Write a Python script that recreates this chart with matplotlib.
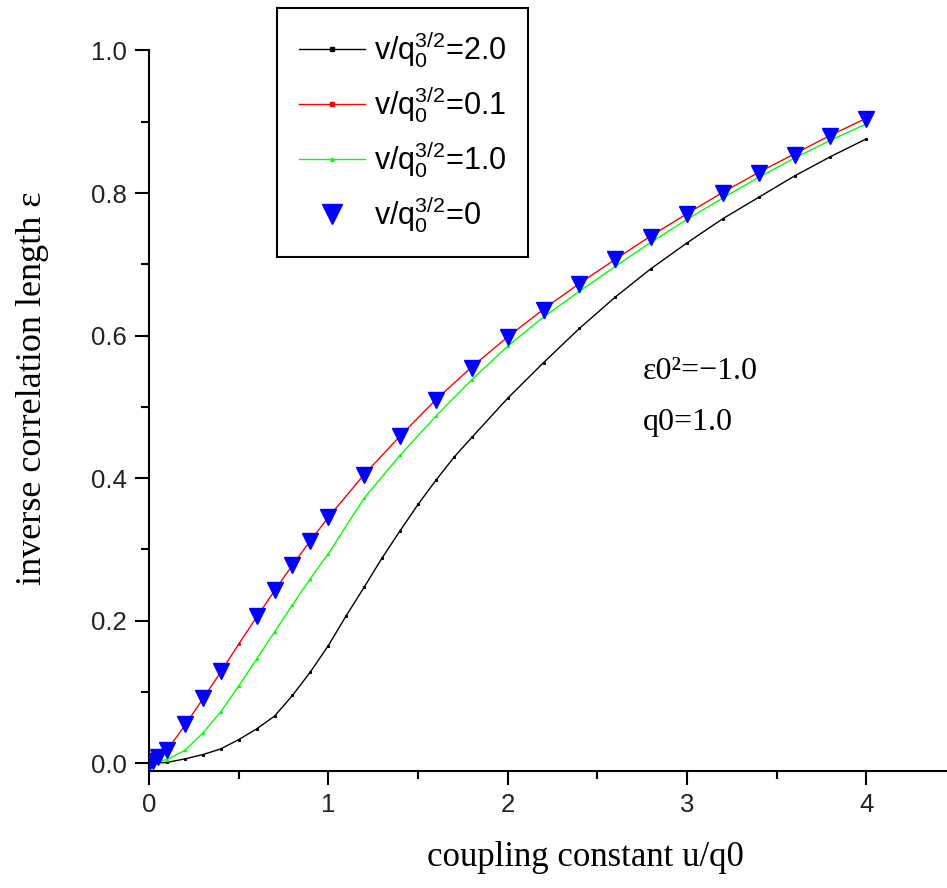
import matplotlib
matplotlib.use("Agg")
import matplotlib.pyplot as plt
from matplotlib.ticker import MultipleLocator

# ---- data ----
x_tri = [0, 0.02, 0.05, 0.1, 0.2, 0.3, 0.4, 0.6, 0.7, 0.8, 0.9, 1.0, 1.2, 1.4,
         1.6, 1.8, 2.0, 2.2, 2.4, 2.6, 2.8, 3.0, 3.2, 3.4, 3.6, 3.8, 4.0]
y_tri = [0.0, 0.003, 0.008, 0.019, 0.055, 0.091, 0.130, 0.206, 0.243, 0.278,
         0.312, 0.345, 0.405, 0.459, 0.510, 0.555, 0.598, 0.636, 0.672, 0.707,
         0.739, 0.770, 0.800, 0.828, 0.853, 0.880, 0.904]

x_red = [0, 0.1, 0.2, 0.3, 0.4, 0.5, 0.6, 0.7, 0.8, 0.9, 1.0, 1.2, 1.4, 1.6,
         1.8, 2.0, 2.2, 2.4, 2.6, 2.8, 3.0, 3.2, 3.4, 3.6, 3.8, 4.0]
y_red = [0.0, 0.018, 0.053, 0.090, 0.128, 0.167, 0.205, 0.242, 0.278, 0.312,
         0.345, 0.405, 0.459, 0.510, 0.556, 0.598, 0.637, 0.673, 0.707, 0.740,
         0.771, 0.801, 0.829, 0.855, 0.881, 0.905]

x_green = [0, 0.1, 0.2, 0.3, 0.4, 0.5, 0.6, 0.7, 0.8, 0.9, 1.0, 1.2, 1.4, 1.6,
           1.8, 2.0, 2.2, 2.4, 2.6, 2.8, 3.0, 3.2, 3.4, 3.6, 3.8, 4.0]
y_green = [0.0, 0.005, 0.018, 0.042, 0.072, 0.108, 0.146, 0.184, 0.222, 0.259,
           0.294, 0.372, 0.432, 0.487, 0.538, 0.585, 0.626, 0.662, 0.697, 0.731,
           0.763, 0.793, 0.822, 0.849, 0.874, 0.897]

x_black = [0, 0.1, 0.2, 0.3, 0.4, 0.5, 0.6, 0.7, 0.8, 0.9, 1.0, 1.1, 1.2, 1.3,
           1.4, 1.5, 1.6, 1.7, 1.8, 2.0, 2.2, 2.4, 2.6, 2.8, 3.0, 3.2, 3.4, 3.6,
           3.8, 4.0]
y_black = [0.0, 0.001, 0.006, 0.012, 0.020, 0.033, 0.048, 0.066, 0.095, 0.128,
           0.165, 0.207, 0.247, 0.288, 0.326, 0.363, 0.397, 0.429, 0.457, 0.512,
           0.562, 0.610, 0.654, 0.694, 0.730, 0.764, 0.794, 0.824, 0.851, 0.876]

labels = [r"v/q${}_0^{3/2}$=2.0", r"v/q${}_0^{3/2}$=0.1",
          r"v/q${}_0^{3/2}$=1.0", r"v/q${}_0^{3/2}$=0"]
xlabel = "coupling constant u/q0"
ylabel = "inverse correlation length \u03b5"
note1 = "\u03b50\u00b2=\u22121.0"
note2 = "q0=1.0"

plt.rcParams["mathtext.fontset"] = "custom"
plt.rcParams["mathtext.rm"] = "Liberation Sans"
plt.rcParams["mathtext.it"] = "Liberation Sans:italic"
plt.rcParams["mathtext.bf"] = "Liberation Sans:bold"

W, H = 947, 888
fig = plt.figure(figsize=(W / 100, H / 100), dpi=100)
ax = fig.add_axes([149 / W, 1 - 771 / H, (W - 149) / W, (771 - 50.5) / H])

l1, = ax.plot(x_black, y_black, color="black", lw=1.0, marker="s", ms=1.2)
l2, = ax.plot(x_red, y_red, color="#ff0000", lw=1.0, marker="s", ms=1.2)
l3, = ax.plot(x_green, y_green, color="#00ff00", lw=1.0, marker="^", ms=1.5)
l4, = ax.plot(x_tri, y_tri, linestyle="none", marker="v", ms=12,
              color="#0000ff", zorder=5)

ax.set_xlim(0, 4.45)
ax.set_ylim(-0.011, 1.0)
ax.spines["top"].set_visible(False)
ax.spines["right"].set_visible(False)
for s in ("left", "bottom"):
    ax.spines[s].set_linewidth(1.5)

ax.xaxis.set_major_locator(MultipleLocator(1))
ax.xaxis.set_minor_locator(MultipleLocator(0.5))
ax.yaxis.set_major_locator(MultipleLocator(0.2))
ax.yaxis.set_minor_locator(MultipleLocator(0.1))
ax.tick_params(which="major", direction="out", length=10, width=1.5, pad=6,
               labelsize=18.5)
ax.tick_params(which="minor", direction="out", length=6, width=1.5)
ax.set_xticks([0, 1, 2, 3, 4])
ax.set_xticklabels(["0", "1", "2", "3", "4"])
ax.set_yticks([0.0, 0.2, 0.4, 0.6, 0.8, 1.0])
ax.set_yticklabels(["0.0", "0.2", "0.4", "0.6", "0.8", "1.0"])
for t in ax.get_xticklabels() + ax.get_yticklabels():
    t.set_fontfamily("Liberation Sans")
    t.set_color("#222222")

ax.set_xlabel(xlabel, fontsize=25, fontfamily="Liberation Serif")
ax.set_ylabel(ylabel, fontsize=26, fontfamily="Liberation Serif")
ax.xaxis.set_label_coords((585 - 149) / (W - 149), -0.097)
ax.yaxis.set_label_coords(-0.125, (771 - 388) / (771 - 50.5))

ax.text((643 - 149) / (W - 149), (771 - 379) / (771 - 50.5), note1,
        transform=ax.transAxes, fontsize=23, fontfamily="Liberation Serif",
        va="baseline", ha="left")
ax.text((643 - 149) / (W - 149), (771 - 430) / (771 - 50.5), note2,
        transform=ax.transAxes, fontsize=23, fontfamily="Liberation Serif",
        va="baseline", ha="left")

leg = fig.legend([l1, l2, l3, l4], labels, loc="upper left",
                 bbox_to_anchor=(277 / W, 1 - 8 / H), borderaxespad=0,
                 prop={"family": "Liberation Sans", "size": 22},
                 fancybox=False, framealpha=1, edgecolor="black",
                 handlelength=2.15, handletextpad=0.3, labelspacing=0.47,
                 borderpad=0.72, numpoints=1, markerscale=1.0)
leg.get_frame().set_linewidth(1.5)
for h in leg.legend_handles[:3]:
    h.set_markersize(2.5)
leg.legend_handles[3].set_markersize(14)

fig.savefig("out.png", dpi=100)
